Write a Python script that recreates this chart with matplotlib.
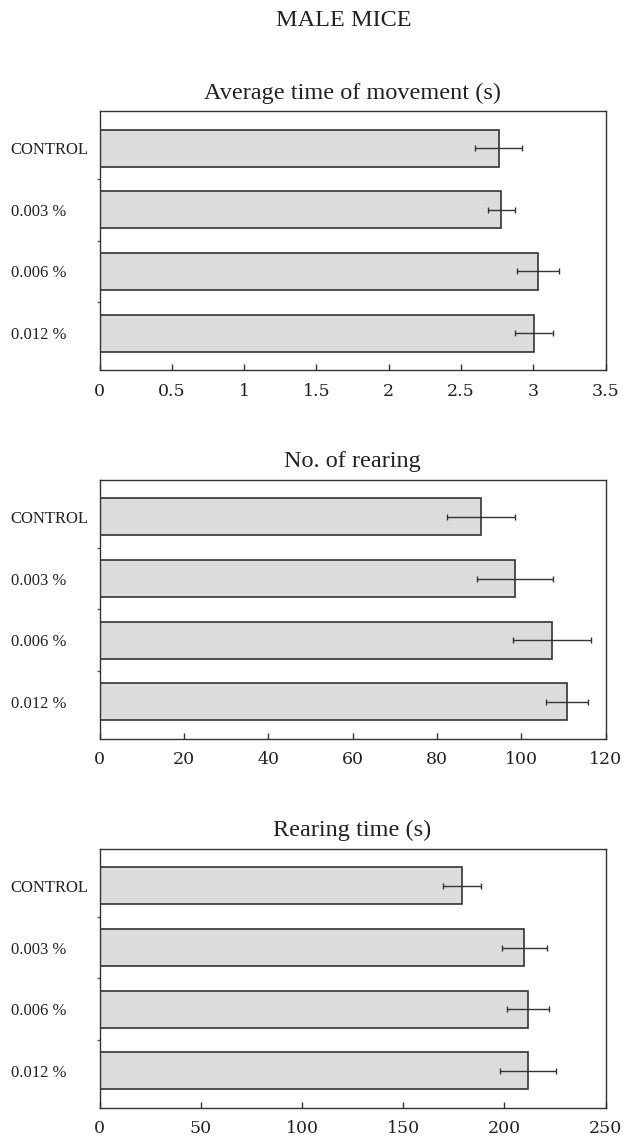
import numpy as np
import matplotlib.pyplot as plt

# Data
groups = ['CONTROL', '0.003 %', '0.006 %', '0.012 %']

move_time = [2.76, 2.78, 3.035, 3.005]
move_err = [0.16, 0.09, 0.145, 0.13]

rearing_no = [90.5, 98.6, 107.3, 110.8]
rearing_no_err = [8.0, 9.0, 9.2, 5.0]

rearing_time = [179.1, 209.9, 211.7, 211.7]
rearing_time_err = [9.4, 11.0, 10.5, 14.0]

titles = ['Average time of movement (s)', 'No. of rearing', 'Rearing time (s)']
xmax = [3.5, 120, 250]
xticks = [[0, 0.5, 1, 1.5, 2, 2.5, 3, 3.5],
          [0, 20, 40, 60, 80, 100, 120],
          [0, 50, 100, 150, 200, 250]]
xticklabels = [['0', '0.5', '1', '1.5', '2', '2.5', '3', '3.5'],
               ['0', '20', '40', '60', '80', '100', '120'],
               ['0', '50', '100', '150', '200', '250']]

values = [move_time, rearing_no, rearing_time]
errors = [move_err, rearing_no_err, rearing_time_err]

txt = '#222222'
plt.rcParams['font.family'] = ['Liberation Serif', 'DejaVu Serif']

fig = plt.figure(figsize=(6.24, 11.4), dpi=100)
fig.text(344 / 624, 1 - 21 / 1140, 'MALE MICE', ha='center', va='center',
         fontsize=17.5, color=txt)

bottoms = [0.6754, 0.3518, 0.0281]
left, width, height = 0.1595, 0.811, 0.2272

pos = np.arange(len(groups))
for i in range(3):
    ax = fig.add_axes([left, bottoms[i], width, height])
    ax.barh(pos, values[i], height=0.6, color='#dcdcdc', edgecolor='#333333',
            linewidth=1.2)
    ax.errorbar(values[i], pos, xerr=errors[i], fmt='none', ecolor='#333333',
                elinewidth=1.0, capsize=2.2, capthick=1.0)
    ax.set_xlim(0, xmax[i])
    ax.set_ylim(3.6, -0.6)
    ax.set_xticks(xticks[i])
    ax.set_xticklabels(xticklabels[i], fontsize=12.5, color=txt,
                       family=['DejaVu Serif'])
    ax.tick_params(axis='x', direction='in', length=4, width=1, pad=9,
                   color='#333333')
    ax.set_yticks(pos)
    ax.set_yticklabels(groups, fontsize=12, color=txt, ha='left')
    ax.tick_params(axis='y', which='major', length=0, pad=64)
    ax.set_yticks([0.5, 1.5, 2.5], minor=True)
    ax.tick_params(axis='y', which='minor', direction='out', length=2,
                   width=1, color='#555555')
    for s in ax.spines.values():
        s.set_linewidth(1.0)
        s.set_color('#333333')
    ax.set_title(titles[i], fontsize=17.5, color=txt, pad=9)

fig.savefig('out.png', dpi=100)
